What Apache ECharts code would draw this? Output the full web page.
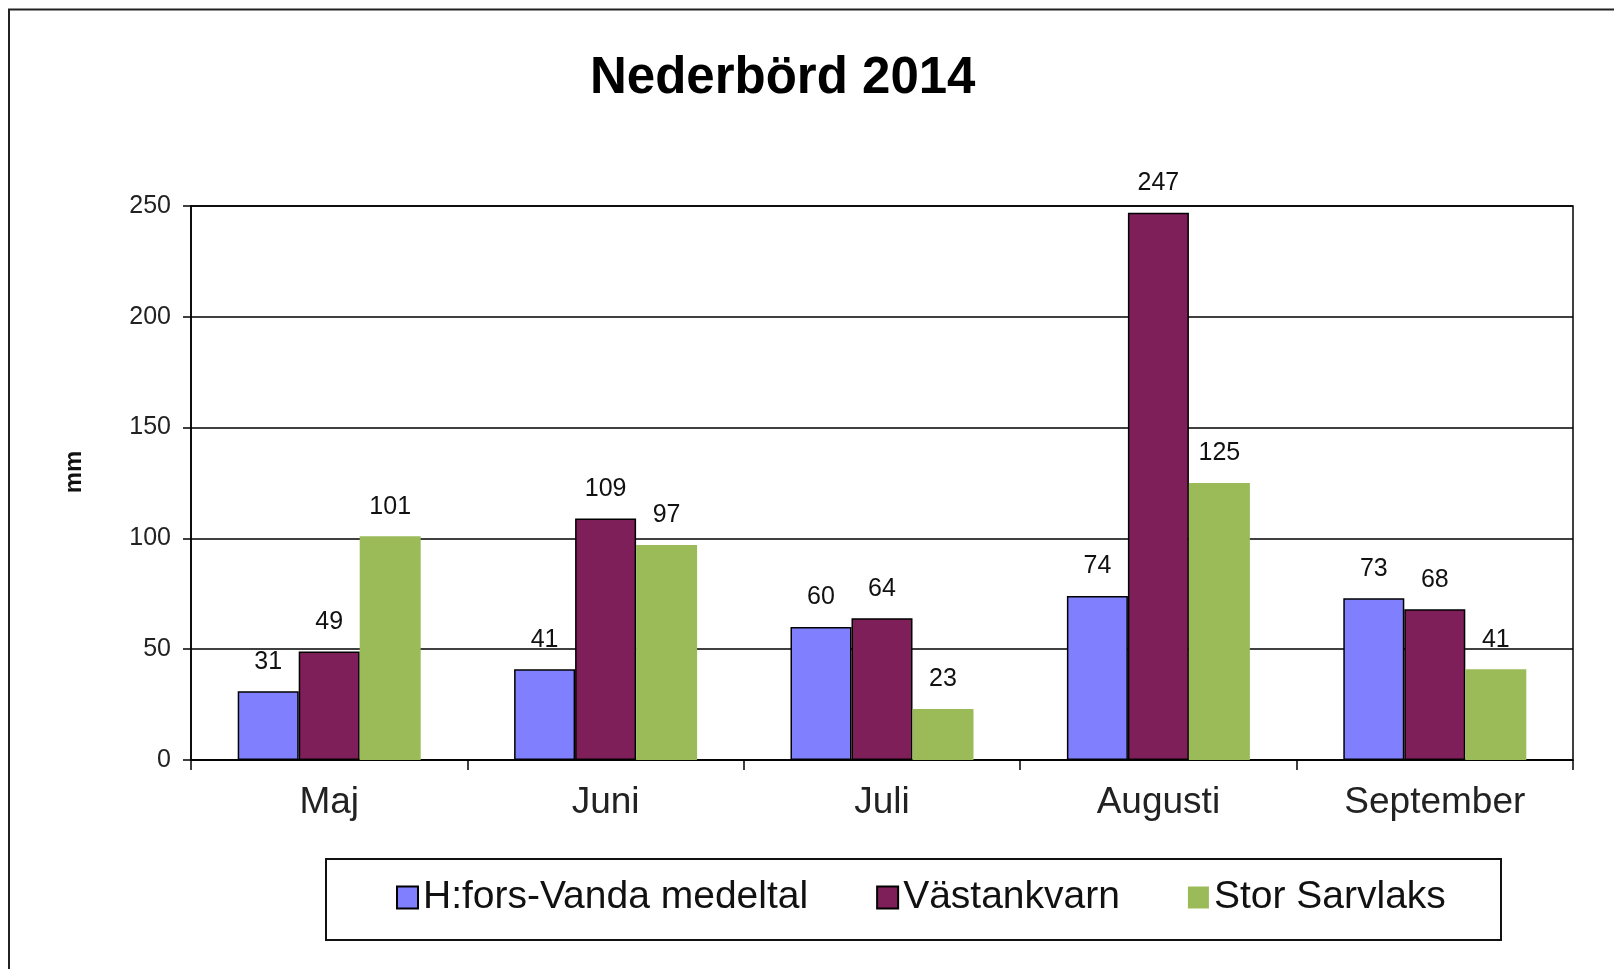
<!DOCTYPE html>
<html>
<head>
<meta charset="utf-8">
<title>Nederbörd 2014</title>
<script src="https://cdn.jsdelivr.net/npm/echarts@6/dist/echarts.min.js"></script>
<style>
  html, body { margin: 0; padding: 0; background: #fff; }
  #chart { width: 1614px; height: 969px; }
</style>
</head>
<body>
<div id="chart"></div>
<script>
// month categories
var months = ['Maj', 'Juni', 'Juli', 'Augusti', 'September'];

// precipitation in mm, one array per station
var hforsVanda = [31, 41, 60, 74, 73];
var vastankvarn = [49, 109, 64, 247, 68];
var storSarvlaks = [101, 97, 23, 125, 41];

var seriesNames = ['H:fors-Vanda medeltal', 'Västankvarn', 'Stor Sarvlaks'];

var FONT = '"Liberation Sans", Arial, sans-serif';

var chart = echarts.init(document.getElementById('chart'));

function barSeries(name, data, color, bordered) {
    return {
        name: name,
        type: 'bar',
        data: data,
        barWidth: 61,
        barGap: '0%',
        itemStyle: {
            color: color,
            borderColor: '#000',
            borderWidth: bordered ? 1.5 : 0
        },
        label: {
            show: true,
            position: 'top',
            distance: 17,
            color: '#111',
            fontFamily: FONT,
            fontSize: 25
        },
        emphasis: { disabled: true }
    };
}

chart.setOption({
    backgroundColor: '#fff',
    animation: false,
    title: {
        text: 'Nederbörd 2014',
        left: 590,
        top: 53,
        padding: 0,
        textStyle: { fontFamily: FONT, fontSize: 51, fontWeight: 'bold', color: '#000' }
    },
    grid: {
        left: 191, right: 41, top: 206, bottom: 209,
        show: true, borderColor: '#000', borderWidth: 1.5, backgroundColor: 'transparent'
    },
    legend: {
        data: seriesNames,
        left: 396,
        top: 878,
        padding: 0,
        itemGap: 68,
        itemWidth: 21,
        itemHeight: 22,
        icon: 'rect',
        textStyle: { fontFamily: FONT, fontSize: 39, color: '#111' }
    },
    xAxis: {
        type: 'category',
        data: months,
        axisLine: { lineStyle: { color: '#000', width: 1.5 } },
        axisTick: { show: true, length: 10, interval: 0, alignWithLabel: false, lineStyle: { color: '#000', width: 1.5 } },
        axisLabel: { interval: 0, margin: 24, color: '#222', fontFamily: FONT, fontSize: 37 },
        splitLine: { show: false }
    },
    yAxis: {
        type: 'value',
        min: 0,
        max: 250,
        interval: 50,
        axisLine: { show: true, lineStyle: { color: '#000', width: 1.5 } },
        axisTick: { show: true, length: 8, inside: false, lineStyle: { color: '#000', width: 1.5 } },
        axisLabel: { margin: 20, color: '#222', fontFamily: FONT, fontSize: 25 },
        splitLine: { show: true, lineStyle: { color: '#000', width: 1.5 } }
    },
    graphic: [
        // outer chart border (runs off the right and bottom edges)
        {
            type: 'rect', silent: true, z: -1,
            shape: { x: 9, y: 9.5, width: 1700, height: 1100 },
            style: { fill: 'transparent', stroke: '#222', lineWidth: 2 }
        },
        // legend box
        {
            type: 'rect', silent: true,
            shape: { x: 326, y: 859, width: 1175, height: 81 },
            style: { fill: 'transparent', stroke: '#111', lineWidth: 2 }
        },
        // y axis name
        {
            type: 'text', silent: true,
            x: 74, y: 472, rotation: Math.PI / 2,
            style: {
                text: 'mm', fontFamily: FONT, fontSize: 24, fontWeight: 'bold',
                fill: '#111', align: 'center', verticalAlign: 'middle'
            }
        }
    ],
    series: [
        barSeries(seriesNames[0], hforsVanda, '#8080FF', true),
        barSeries(seriesNames[1], vastankvarn, '#7F1F5A', true),
        barSeries(seriesNames[2], storSarvlaks, '#9BBB59', false)
    ]
});
</script>
</body>
</html>
